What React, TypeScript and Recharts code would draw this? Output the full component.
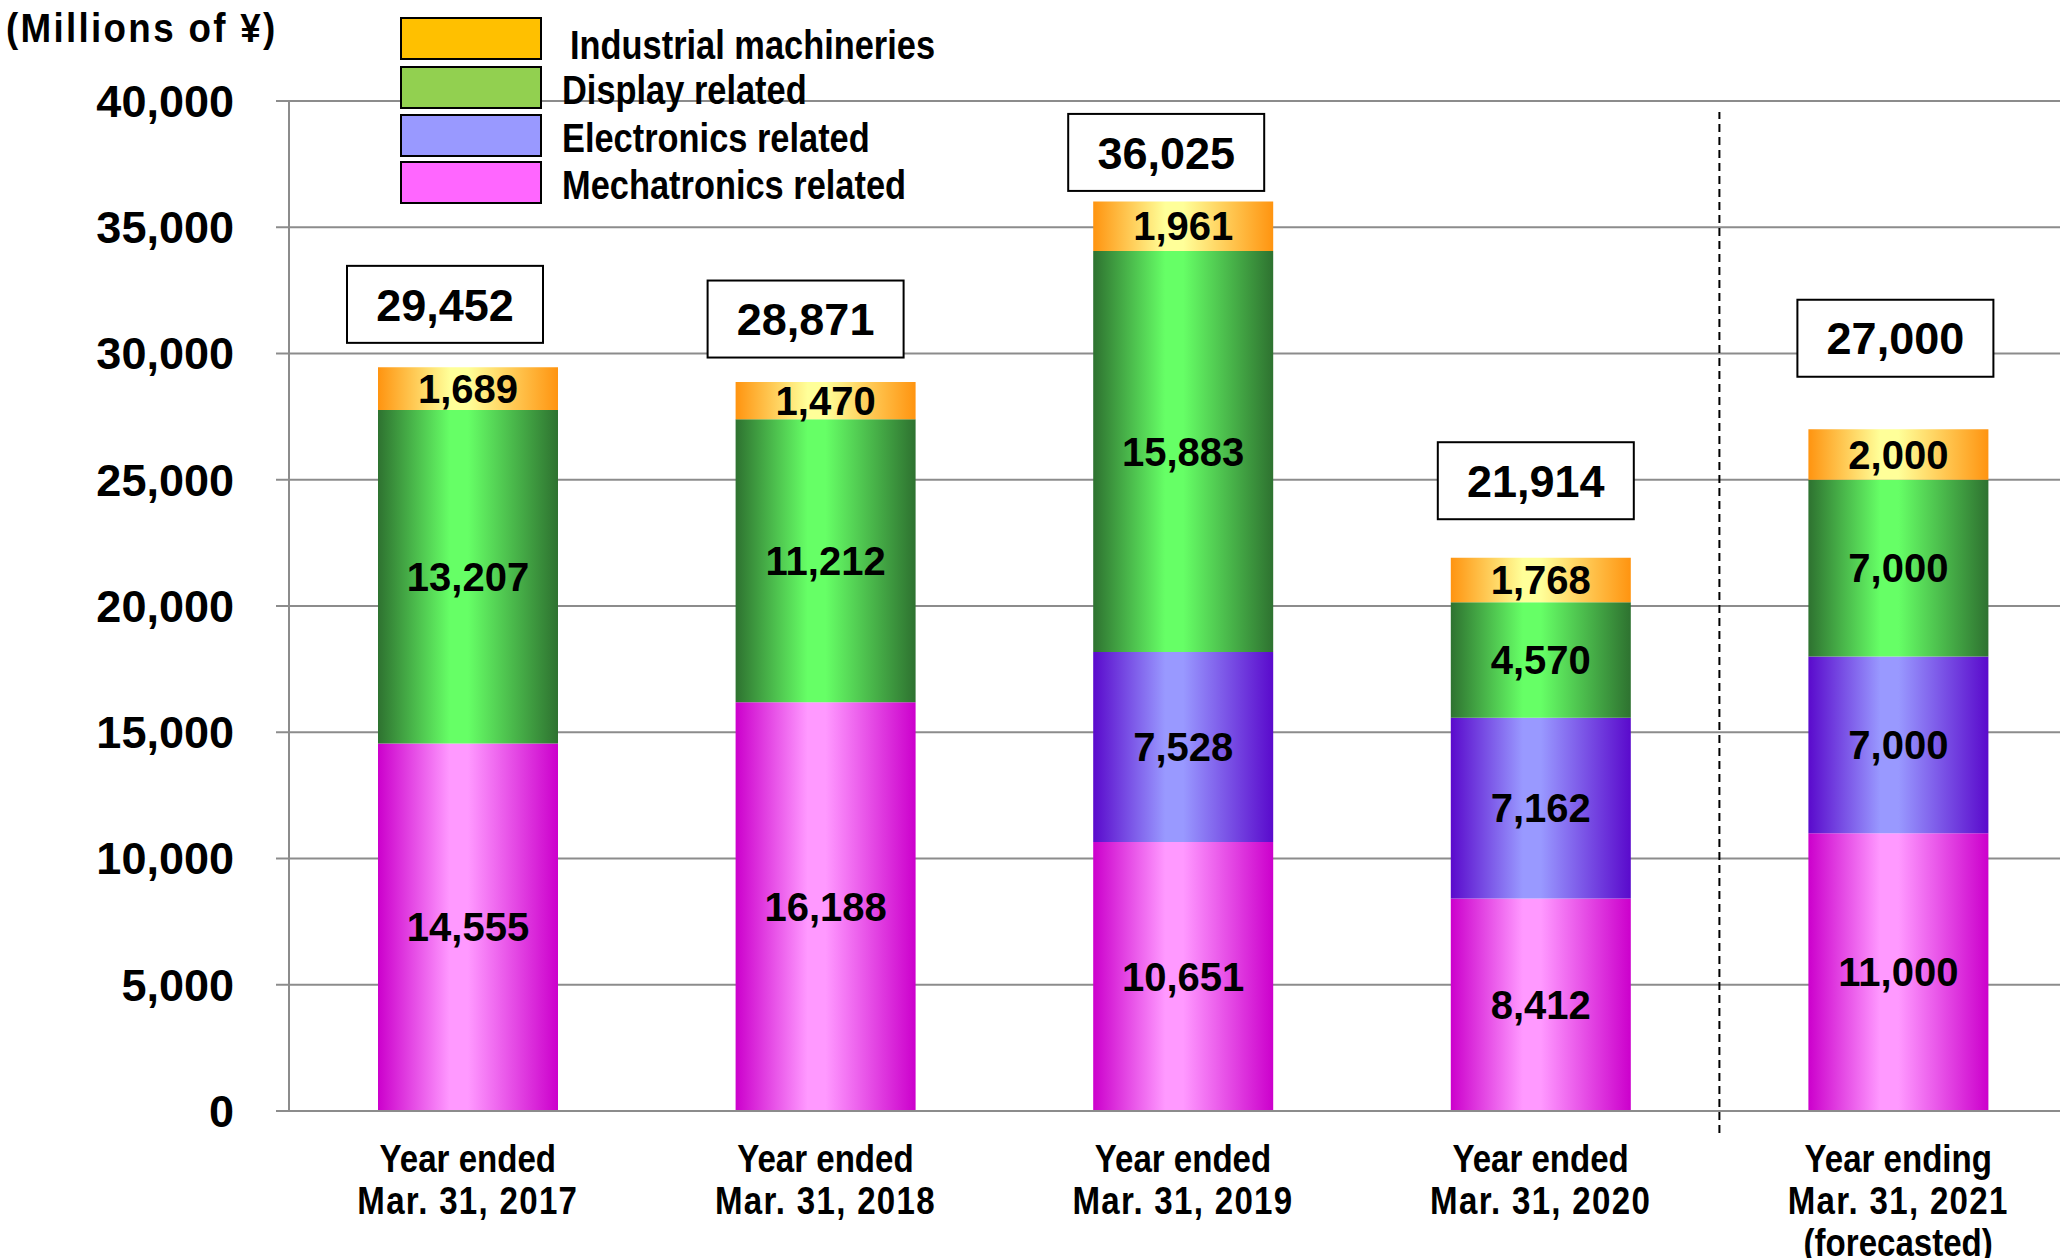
import { BarChart, Bar, XAxis, YAxis, CartesianGrid, LabelList, ReferenceLine } from 'recharts';

const categories = ['FY2017', 'FY2018', 'FY2019', 'FY2020', 'FY2021F'];
const tickLines = [
  ['Year ended', 'Mar. 31, 2017'],
  ['Year ended', 'Mar. 31, 2018'],
  ['Year ended', 'Mar. 31, 2019'],
  ['Year ended', 'Mar. 31, 2020'],
  ['Year ending', 'Mar. 31, 2021', '(forecasted)'],
];
const mechatronics = [14555, 16188, 10651, 8412, 11000];
const electronics = [0, 0, 7528, 7162, 7000];
const display = [13207, 11212, 15883, 4570, 7000];
const industrial = [1689, 1470, 1961, 1768, 2000];
const totals = [29452, 28871, 36025, 21914, 27000];
const yTicks = [0, 5000, 10000, 15000, 20000, 25000, 30000, 35000, 40000];

// hand-placed total boxes (px from bar centre / bar top), as in the source slide
const boxOffsets = [
  { dx: -23, dy: -63 },
  { dx: -20, dy: -63 },
  { dx: -17, dy: -49 },
  { dx: -5, dy: -77 },
  { dx: -3, dy: -91 },
];

const series = [
  { key: 'mechatronics', name: 'Mechatronics related', dark: '#CC00CC', light: '#FF99FF', swatch: '#FF66FF' },
  { key: 'electronics', name: 'Electronics related', dark: '#5A0ACC', light: '#9999FF', swatch: '#9999FF' },
  { key: 'display', name: 'Display related', dark: '#2E7230', light: '#66FF66', swatch: '#92D050' },
  { key: 'industrial', name: 'Industrial machineries', dark: '#FF9410', light: '#FFFF99', swatch: '#FFC000' },
];

const data = categories.map((name, i) => ({
  name,
  mechatronics: mechatronics[i],
  electronics: electronics[i],
  display: display[i],
  industrial: industrial[i],
  total: totals[i],
}));

const FONT = "'Liberation Sans', Arial, sans-serif";
const GRID = '#8c8c8c';

const fmt = (v: any) => (v ? Number(v).toLocaleString('en-US') : '');

// no condensed face installed, so squeeze the bold sans horizontally
const NarrowText = ({ x, y, size, sx = 0.85, anchor = 'start', spacing = 0, children }: any) => (
  <text
    transform={`translate(${x},${y}) scale(${sx},1)`}
    textAnchor={anchor}
    fontSize={size}
    fontWeight="bold"
    fontFamily={FONT}
    letterSpacing={spacing}
    fill="#000"
  >
    {children}
  </text>
);

const TotalBox = (props: any) => {
  const vb = props.viewBox ?? props;
  const x = vb.x ?? props.x;
  const y = vb.y ?? props.y;
  const width = vb.width ?? props.width;
  const i = totals.indexOf(Number(props.value));
  const off = boxOffsets[i] ?? { dx: 0, dy: -60 };
  const cx = x + width / 2 + off.dx;
  const cy = y + off.dy;
  return (
    <g>
      <rect x={cx - 98} y={cy - 38.5} width={196} height={77} fill="#fff" stroke="#000" strokeWidth={2} />
      <text x={cx} y={cy} dy="0.36em" textAnchor="middle" fontSize={45} fontWeight="bold" fontFamily={FONT} fill="#000">
        {fmt(props.value)}
      </text>
    </g>
  );
};

const XTick = ({ x, y, payload }: any) => {
  const lines = tickLines[categories.indexOf(payload.value)] ?? [];
  return (
    <g>
      {lines.map((line, k) => (
        <NarrowText key={k} x={x} y={y + 61 + k * 42} size={38} sx={0.87} spacing={k === 1 ? 1.5 : 0} anchor="middle">
          {line}
        </NarrowText>
      ))}
    </g>
  );
};

const legendRows = [
  { s: series[3], y: 18, tx: 570, ty: 59 },
  { s: series[2], y: 67, tx: 562, ty: 104 },
  { s: series[1], y: 115, tx: 562, ty: 152 },
  { s: series[0], y: 162, tx: 562, ty: 199 },
];

const App = () => {
  return (
    <div style={{ position: 'absolute', left: 0, top: 0, width: 2060, height: 1258, overflow: 'hidden', background: '#fff' }}>
      <BarChart width={2077} height={1258} data={data} margin={{ top: 101, right: 0, left: 0, bottom: 0 }}>
        <defs>
          {series.map((s) => (
            <linearGradient key={s.key} id={`grad-${s.key}`} x1="0" y1="0" x2="1" y2="0">
              <stop offset="0%" stopColor={s.dark} />
              <stop offset="40%" stopColor={s.light} />
              <stop offset="50%" stopColor={s.light} />
              <stop offset="100%" stopColor={s.dark} />
            </linearGradient>
          ))}
        </defs>
        <CartesianGrid vertical={false} stroke={GRID} strokeWidth={2} />
        <XAxis
          dataKey="name"
          height={147}
          tickLine={false}
          tickSize={0}
          tickMargin={0}
          axisLine={{ stroke: GRID, strokeWidth: 2 }}
          tick={<XTick />}
          interval={0}
        />
        <YAxis
          width={289}
          domain={[0, 40000]}
          ticks={yTicks}
          interval={0}
          tickSize={13}
          tickMargin={42}
          tickFormatter={(v: number) => v.toLocaleString('en-US')}
          tick={{ fontSize: 45, fontWeight: 'bold', fill: '#000', fontFamily: FONT }}
          tickLine={{ stroke: GRID, strokeWidth: 2 }}
          axisLine={{ stroke: GRID, strokeWidth: 2 }}
        />
        {series.map((s) => (
          <Bar key={s.key} dataKey={s.key} name={s.name} stackId="a" barSize={180} fill={`url(#grad-${s.key})`} isAnimationActive={false}>
            <LabelList
              dataKey={s.key}
              position="center"
              formatter={fmt}
              style={{ fontSize: 40, fontWeight: 'bold', fill: '#000', fontFamily: FONT }}
            />
            {s.key === 'industrial' && <LabelList dataKey="total" content={<TotalBox />} />}
          </Bar>
        ))}
        <ReferenceLine
          segment={[{ x: categories[4], y: -870 }, { x: categories[4], y: 39560 }]}
          position="start"
          stroke="#000"
          strokeWidth={2}
          strokeDasharray="8 5"
          ifOverflow="visible"
        />
      </BarChart>
      <svg width={1200} height={220} style={{ position: 'absolute', left: 0, top: 0, pointerEvents: 'none' }}>
        <NarrowText x={6} y={42} size={40} sx={0.92} spacing={2.5}>
          (Millions of ¥)
        </NarrowText>
        {legendRows.map((r) => (
          <g key={r.s.key}>
            <rect x={401} y={r.y} width={140} height={41} fill={r.s.swatch} stroke="#000" strokeWidth={2} />
            <NarrowText x={r.tx} y={r.ty} size={40} sx={0.86}>
              {r.s.name}
            </NarrowText>
          </g>
        ))}
      </svg>
    </div>
  );
};

export default App;
